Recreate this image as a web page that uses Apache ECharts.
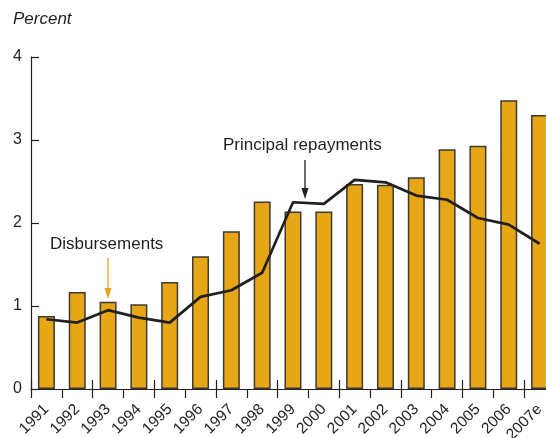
<!DOCTYPE html>
<html>
<head>
<meta charset="utf-8">
<script src="https://cdn.jsdelivr.net/npm/echarts@6/dist/echarts.min.js"></script>
<style>
  html, body { margin: 0; padding: 0; background: #fff; overflow: hidden; }
  #chart { width: 546px; height: 438px; }
</style>
</head>
<body>
<div id="chart"></div>
<script>
var years = ['1991', '1992', '1993', '1994', '1995', '1996', '1997', '1998', '1999',
             '2000', '2001', '2002', '2003', '2004', '2005', '2006', '2007e'];
// disbursements (bars), percent
var disbursements = [0.88, 1.17, 1.05, 1.02, 1.29, 1.60, 1.90, 2.26, 2.14,
                     2.14, 2.47, 2.46, 2.55, 2.89, 2.93, 3.48, 3.30];
// principal repayments (line), percent
var repayments = [0.84, 0.80, 0.95, 0.86, 0.80, 1.11, 1.19, 1.40, 2.25,
                  2.23, 2.52, 2.49, 2.33, 2.28, 2.06, 1.98, 1.75];
var yTicks = [0, 1, 2, 3, 4];

var font = "'Liberation Sans', Arial, Helvetica, sans-serif";
var orange = '#e6a616';
var ink = '#231f20';

var chart = echarts.init(document.getElementById('chart'));

var option = {
    animation: false,
    backgroundColor: '#fff',
    // plot runs past the right edge, the last bar is cut off
    grid: { left: 31, top: 57, bottom: 49, width: 524, outerBoundsMode: 'none', containLabel: false },
    xAxis: [{
        type: 'category',
        data: years,
        boundaryGap: true,
        axisLine: { lineStyle: { color: ink, width: 1.2 } },
        axisTick: { show: true, length: 9, lineStyle: { color: ink, width: 1.2 } },
        axisLabel: { rotate: 45, margin: 18, fontSize: 15.5, color: ink, fontFamily: font }
    }, {
        type: 'category',
        data: years,
        position: 'bottom',
        boundaryGap: true,
        axisLine: { show: false },
        axisTick: { show: true, inside: true, length: 9, lineStyle: { color: ink, width: 1.2 } },
        axisLabel: { show: false }
    }],
    yAxis: {
        type: 'value',
        min: yTicks[0],
        max: yTicks[yTicks.length - 1],
        interval: 1,
        splitLine: { show: false },
        axisLine: { show: true, lineStyle: { color: ink, width: 1.2 } },
        axisTick: { show: true, inside: true, length: 8, lineStyle: { color: ink, width: 1.2 } },
        axisLabel: { margin: 9, fontSize: 16, color: ink, fontFamily: font }
    },
    series: [{
        name: 'Disbursements',
        type: 'bar',
        data: disbursements,
        barWidth: 17,
        itemStyle: { color: orange, borderColor: '#3d3934', borderWidth: 1.5 },
        z: 2
    }, {
        name: 'Principal repayments',
        type: 'line',
        data: repayments,
        symbol: 'none',
        lineStyle: { color: ink, width: 2.7 },
        z: 3
    }],
    graphic: [
        { type: 'text', left: 13, top: 11,
          style: { text: 'Percent', font: 'italic 17px ' + font, fill: ink } },
        { type: 'text', left: 223, top: 137,
          style: { text: 'Principal repayments', font: '17px ' + font, fill: ink } },
        { type: 'line', shape: { x1: 305, y1: 160, x2: 305, y2: 190 },
          style: { stroke: ink, lineWidth: 1.3 } },
        { type: 'polygon', shape: { points: [[301.5, 188], [308.5, 188], [305, 199]] },
          style: { fill: ink } },
        { type: 'text', left: 50, top: 236,
          style: { text: 'Disbursements', font: '17px ' + font, fill: ink } },
        { type: 'line', shape: { x1: 108, y1: 258, x2: 108, y2: 290 },
          style: { stroke: orange, lineWidth: 1.3 } },
        { type: 'polygon', shape: { points: [[104.5, 288], [111.5, 288], [108, 299]] },
          style: { fill: orange } }
    ]
};
chart.setOption(option);
</script>
</body>
</html>
